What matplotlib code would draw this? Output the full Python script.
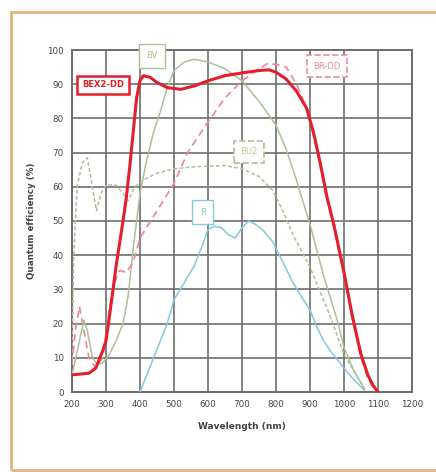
import matplotlib
matplotlib.use("Agg")
import matplotlib.pyplot as plt
from matplotlib.patches import Rectangle

# ---- data ----
bex2_wl = [200, 250, 270, 290, 300, 310, 330, 350, 360, 370, 380, 390, 400, 410, 430, 450, 480, 520, 560, 600, 650, 700, 750, 780, 800, 830, 860, 890, 910, 930, 950, 970, 1000, 1025, 1050, 1070, 1085, 1100]
bex2_qe = [5, 5.5, 7, 12, 15, 22, 37, 50, 57, 66, 76, 86, 91, 92.5, 92, 90.5, 89, 88.5, 89.5, 91, 92.5, 93.3, 94, 94.2, 93.5, 91.5, 88, 83, 76, 67, 57, 49, 35, 22, 11, 5, 2, 0]

bv_wl = [200, 220, 235, 245, 260, 275, 290, 310, 330, 350, 365, 380, 400, 420, 440, 460, 480, 500, 530, 560, 600, 650, 700, 750, 800, 830, 860, 900, 940, 980, 1000, 1030, 1060]
bv_qe = [5, 14, 21, 18, 10, 8, 8.5, 11, 15, 20, 28, 42, 58, 68, 76, 82, 89, 94, 96.5, 97.3, 96.5, 94.5, 91, 85, 78, 71, 62, 49, 34, 21, 13, 6, 1]

bu2_wl = [200, 205, 215, 230, 245, 260, 272, 285, 300, 330, 350, 365, 385, 410, 450, 500, 550, 600, 650, 700, 750, 790, 820, 850, 900, 960, 1000, 1045, 1060]
bu2_qe = [8, 40, 60, 67, 68.5, 60, 53, 58, 60.5, 60.5, 58, 56, 60, 62, 64, 65.2, 65.8, 66, 66.2, 65.3, 63, 59, 53, 46, 36.5, 22, 11, 3.5, 1]

brdd_wl = [200, 210, 222, 235, 250, 270, 290, 310, 325, 340, 360, 380, 400, 450, 500, 540, 600, 650, 700, 750, 775, 800, 830, 860, 890, 910, 930, 950, 970, 1000, 1025, 1050, 1070, 1090]
brdd_qe = [8, 18, 25, 18, 10, 7, 10, 24, 32, 35.5, 35, 38, 45, 53, 61, 70, 79, 86, 91, 94.5, 96, 95.8, 95, 90, 83, 75, 66, 56, 48, 34, 21, 10, 4, 0.5]

r_wl = [400, 420, 440, 460, 480, 500, 530, 560, 580, 600, 620, 640, 660, 680, 700, 720, 740, 760, 790, 820, 850, 880, 900, 920, 940, 960, 980, 1000, 1030, 1060]
r_qe = [0, 5, 10, 15, 20, 27, 32, 37, 42, 47.5, 48.5, 48, 46, 45, 48, 50, 49, 47.5, 44, 38, 32, 27, 24, 19, 15, 12, 9.5, 7, 3.5, 0.5]

x_ticks = [200, 300, 400, 500, 600, 700, 800, 900, 1000, 1100, 1200]
y_ticks = [0, 10, 20, 30, 40, 50, 60, 70, 80, 90, 100]

RED = "#e41e2b"
GREEN = "#a9c296"
OLIVE = "#b2bc98"
PINK = "#ef8c9c"
BLUE = "#86c8dc"

fig = plt.figure(figsize=(4.36, 4.72), dpi=100)
fig.patch.set_facecolor("white")

# outer orange frame
fig.patches.append(Rectangle((11 / 436, 1 - 470 / 472), 440 / 436, 458 / 472,
                             transform=fig.transFigure, fill=False,
                             edgecolor="#e6b47c", linewidth=2.0))

ax = fig.add_axes([72 / 436, 1 - 392 / 472, 340 / 436, 342 / 472])
ax.set_xlim(200, 1200)
ax.set_ylim(0, 100)
ax.set_xticks(x_ticks)
ax.set_yticks(y_ticks)
ax.set_xticklabels([str(v) for v in x_ticks], fontsize=6.3, color="#444444")
ax.set_yticklabels([str(v) for v in y_ticks], fontsize=6.3, color="#444444")
ax.tick_params(length=0, pad=6)
ax.grid(True, color="#6e6e6e", linewidth=1.2)
ax.set_axisbelow(True)
for s in ax.spines.values():
    s.set_color("#6e6e6e")
    s.set_linewidth(1.4)

ax.plot(bu2_wl, bu2_qe, color=OLIVE, lw=1.1, ls=(0, (2.5, 1.5)), zorder=3)
ax.plot(bv_wl, bv_qe, color=GREEN, lw=1.1, zorder=3)
ax.plot(r_wl, r_qe, color=BLUE, lw=1.1, zorder=3)
ax.plot(brdd_wl, brdd_qe, color=PINK, lw=1.3, ls=(0, (4, 2.5)), zorder=3)
ax.plot(bex2_wl, bex2_qe, color=RED, lw=2.2, zorder=4)

ax.set_xlabel("Wavelength (nm)", fontsize=6.5, fontweight="bold", color="#444444", labelpad=9)
ax.set_ylabel("Quantum efficiency (%)", fontsize=6.3, fontweight="bold", color="#444444", labelpad=8)

def label(x, y, text, ec, tc, ls="-", lw=1.0, bold=False, pad=0.6):
    ax.text(x, y, text, ha="center", va="center", fontsize=6, color=tc,
            fontweight="bold" if bold else "normal", zorder=6,
            bbox=dict(boxstyle=f"square,pad={pad}", fc="white", ec=ec, lw=lw, ls=ls))

label(435, 98.3, "BV", GREEN, "#b6b888", pad=0.9)
label(291, 89.8, "BEX2-DD", RED, RED, lw=1.8, bold=True, pad=0.55)
label(950, 95.3, "BR-DD", PINK, PINK, ls="--", lw=1.2, pad=0.8)
label(720, 70.2, "BU2", OLIVE, "#c2c89e", ls="--", lw=1.2, pad=0.8)
label(585, 52.6, "R", BLUE, "#8cc0d0", pad=0.9)

fig.savefig("out.png", dpi=100)
